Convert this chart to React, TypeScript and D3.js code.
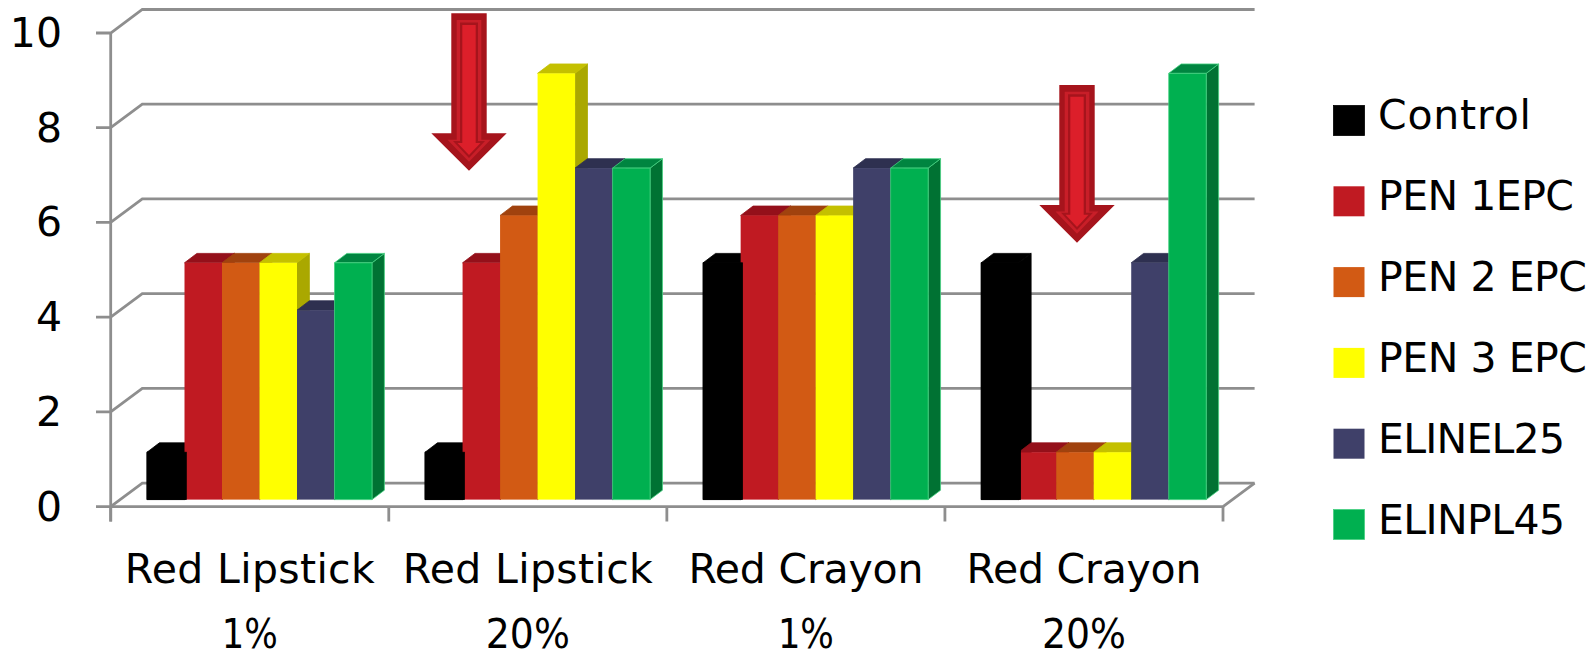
import React from "react";
import * as d3 from "d3";

const categoryLine1 = ["Red Lipstick", "Red Lipstick", "Red Crayon", "Red Crayon"];
const categoryLine2 = ["1%", "20%", "1%", "20%"];
const categories = categoryLine1.map((c, i) => `${c} ${categoryLine2[i]}`);
const seriesNames = ["Control", "PEN 1EPC", "PEN 2 EPC", "PEN 3 EPC", "ELINEL25", "ELINPL45"];
const control = [1, 1, 5, 5];
const pen1 = [5, 5, 6, 1];
const pen2 = [5, 6, 6, 1];
const pen3 = [5, 9, 6, 1];
const elinel = [4, 7, 7, 5];
const elinpl = [5, 7, 7, 9];
const seriesValues = [control, pen1, pen2, pen3, elinel, elinpl];
const yTicks = [0, 2, 4, 6, 8, 10];

const frontColors = ["#000000", "#C01A22", "#D25A14", "#FFFF00", "#3F4069", "#00B050"];
const topColors = ["#000000", "#94101A", "#A0420E", "#C4C000", "#2E3050", "#008540"];
const sideColors = ["#000000", "#94101A", "#A0420E", "#AAA800", "#2E3050", "#007233"];
const edgeColors = ["#000000", "none", "none", "none", "none", "#45D080"];

// Text widths per label, so the lettering spreads like the chart's original face.
const line1Widths = [250, 250, 235, 235];
const line2Widths = [56, 84, 56, 84];
const legendWidths = [153, 196, 209, 209, 187, 187];

const FONT = "'DejaVu Sans', sans-serif";
const GRID = "#8E8E8E";
const FONT_SIZE = 41;

const x = d3.scaleBand<string>().domain(categories).range([110.7, 1223]);
const y = d3.scaleLinear().domain([0, 10]).range([506.6, 33]);
const barBase = -7;
const wallDx = 31.6;
const wallDy = -23.5;
const barDx = 12.4;
const barDy = -9.4;
const seriesBand = d3
  .scaleBand<number>()
  .domain(d3.range(seriesNames.length))
  .range([36.3, 261.3]);

const poly = (pts: [number, number][]) => pts.map((p) => p.join(",")).join(" ");

// Block arrow with a bevelled look built from nested outlines.
const arrowLayers = [
  { half: 17.7, wing: 37.7, neckIn: 0, tipIn: 0, topIn: 0, fill: "#A6141C" },
  { half: 12.3, wing: 21.5, neckIn: 6.4, tipIn: 9, topIn: 6.7, fill: "#C81E28" },
  { half: 9, wing: 16, neckIn: 7.7, tipIn: 12.7, topIn: 9.3, fill: "#A6141C" },
  { half: 6.7, wing: 11.5, neckIn: 9.7, tipIn: 15.7, topIn: 11.7, fill: "#DC1F2A" },
];

function BlockArrow({ cx, top, neck, tip }: { cx: number; top: number; neck: number; tip: number }) {
  return (
    <g>
      {arrowLayers.map(({ half, wing, neckIn, tipIn, topIn, fill }) => {
        const n = neck + neckIn;
        const pts: [number, number][] = [
          [cx - half, top + topIn],
          [cx + half, top + topIn],
          [cx + half, n],
          [cx + wing, n],
          [cx, tip - tipIn],
          [cx - wing, n],
          [cx - half, n],
        ];
        return <polygon key={half} points={poly(pts)} fill={fill} />;
      })}
    </g>
  );
}

export default function App() {
  // Series are laid down left to right, so each bar hides its left neighbour's side face.
  const bars = categories.flatMap((cat, c) =>
    seriesNames.map((_, s) => {
      const v = seriesValues[s][c];
      const x0 = x(cat)! + seriesBand(s)!;
      return { key: `${c}-${s}`, s, x0, x1: x0 + seriesBand.bandwidth(), y0: y(0) + barBase, y1: y(v) + barBase };
    })
  );

  const drawBar = (b: (typeof bars)[number]) => {
    const rim = b.s === 5 ? edgeColors[5] : undefined;
    return (
      <g key={b.key} strokeWidth={0.8} strokeLinejoin="round">
        <polygon
          points={poly([[b.x1, b.y1], [b.x1 + barDx, b.y1 + barDy], [b.x1 + barDx, b.y0 + barDy], [b.x1, b.y0]])}
          fill={sideColors[b.s]}
          stroke={rim ?? sideColors[b.s]}
        />
        <polygon
          points={poly([[b.x0, b.y1], [b.x0 + barDx, b.y1 + barDy], [b.x1 + barDx, b.y1 + barDy], [b.x1, b.y1]])}
          fill={topColors[b.s]}
          stroke={rim ?? topColors[b.s]}
        />
        <rect
          x={b.x0}
          y={b.y1}
          width={b.x1 - b.x0}
          height={b.y0 - b.y1}
          fill={frontColors[b.s]}
          stroke={edgeColors[b.s]}
        />
      </g>
    );
  };

  return (
    <svg
      width={1595}
      height={653}
      style={{ position: "absolute", left: 0, top: 0, display: "block" }}
      fontFamily={FONT}
    >
      <rect width={1595} height={653} fill="#fff" />

      {/* back wall gridlines with the receding side-wall segments */}
      {yTicks.map((t) => (
        <path
          key={t}
          stroke={GRID}
          strokeWidth={2.8}
          fill="none"
          d={`M96,${y(t)}H${x.range()[0]}l${wallDx},${wallDy}H${x.range()[1] + wallDx}`}
        />
      ))}

      {bars.map(drawBar)}

      {/* control bars sit a touch proud of their neighbours */}
      {bars
        .filter((b) => b.s === 0)
        .map((b) => (
          <rect
            key={b.key}
            x={b.x0}
            y={b.y1}
            width={b.x1 - b.x0 + 1.8}
            height={b.y0 - b.y1}
            fill={frontColors[0]}
            stroke={edgeColors[0]}
            strokeWidth={0.8}
          />
        ))}

      {/* front axis lines and category ticks */}
      <g stroke={GRID} strokeWidth={2.8} fill="none">
        <line x1={x.range()[0]} x2={x.range()[0]} y1={y(10)} y2={521.5} />
        <path d={`M${x.range()[0]},${y(0)}H${x.range()[1]}l${wallDx},${wallDy}`} />
        {[...categories.map((c) => x(c)!), x.range()[1]].map((tx) => (
          <line key={tx} x1={tx} x2={tx} y1={y(0)} y2={521.5} />
        ))}
      </g>

      <BlockArrow cx={469} top={13.3} neck={133.3} tip={170.7} />
      <BlockArrow cx={1077} top={85} neck={205} tip={242.7} />

      {/* value axis labels */}
      {yTicks.map((t) => (
        <text key={t} x={62} y={y(t) + 14} textAnchor="end" fontSize={FONT_SIZE} fill="#000">
          {t}
        </text>
      ))}

      {/* two-line category labels */}
      {categories.map((c, i) => {
        const cx = x(c)! + x.bandwidth() / 2;
        return (
          <g key={c} textAnchor="middle" fontSize={FONT_SIZE} fill="#000">
            <text x={cx} y={583} textLength={line1Widths[i]} lengthAdjust="spacing">
              {categoryLine1[i]}
            </text>
            <text x={cx} y={648} textLength={line2Widths[i]} lengthAdjust="spacingAndGlyphs">
              {categoryLine2[i]}
            </text>
          </g>
        );
      })}

      {/* legend */}
      {seriesNames.map((name, i) => (
        <g key={name}>
          <rect
            x={1333.5}
            y={105.5 + i * 80.8}
            width={31}
            height={30}
            fill={frontColors[i]}
            stroke={edgeColors[i]}
            strokeWidth={0.8}
          />
          <text
            x={1378}
            y={128.5 + i * 81.1}
            fontSize={FONT_SIZE}
            fill="#000"
            textLength={legendWidths[i]}
            lengthAdjust="spacing"
          >
            {name}
          </text>
        </g>
      ))}
    </svg>
  );
}
